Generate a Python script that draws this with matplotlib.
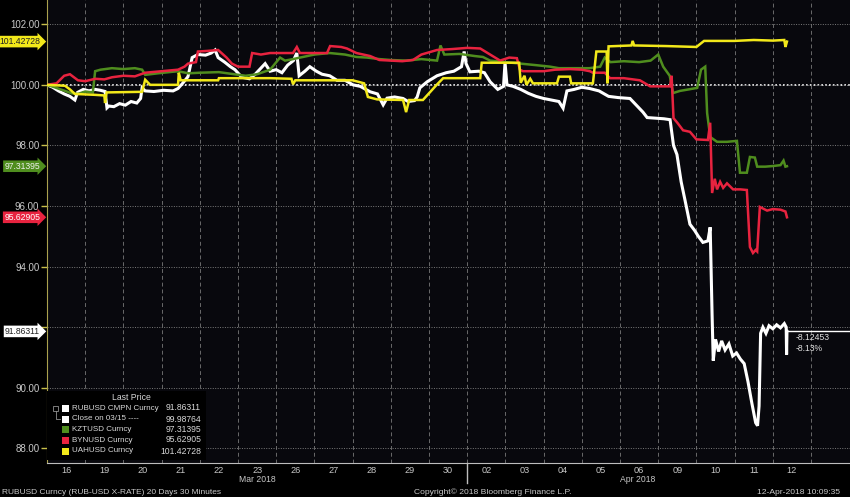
import matplotlib
matplotlib.use('Agg')
import matplotlib.pyplot as plt
from matplotlib import font_manager
from matplotlib.patches import Rectangle
from matplotlib.transforms import blended_transform_factory

plt.rcParams['font.family'] = ['Liberation Sans', 'DejaVu Sans']

# Bloomberg uses a condensed face for labels; take the narrow Liberation cut if present
installed = {f.name for f in font_manager.fontManager.ttflist}
if 'Liberation Sans Narrow' in installed:
    narrow, k = ['Liberation Sans Narrow', 'DejaVu Sans'], 1.2
else:
    narrow, k = ['Liberation Sans', 'DejaVu Sans'], 1.0

# trading days on the x axis (one slot per day)
day_labels = ['16', '19', '20', '21', '22', '23', '26', '27', '28', '29',
              '30', '02', '03', '04', '05', '06', '09', '10', '11', '12']

close_0315 = 99.98764

# RUBUSD (white), time in trading days from 16 Mar
rub_t = [0.00, 0.15, 0.30, 0.45, 0.60, 0.73, 0.80, 0.95, 1.10, 1.26,
         1.40, 1.52, 1.57, 1.62, 1.75, 1.90, 2.05, 2.20, 2.35, 2.45,
         2.49, 2.57, 2.80, 3.05, 3.30, 3.43, 3.55, 3.69, 3.80, 3.95,
         4.15, 4.30, 4.40, 4.48, 4.65, 4.80, 4.92, 5.10, 5.30, 5.45,
         5.60, 5.71, 5.84, 6.00, 6.15, 6.30, 6.45, 6.54, 6.60, 6.75,
         6.88, 7.05, 7.20, 7.40, 7.59, 7.80, 8.01, 8.20, 8.46, 8.65,
         8.80, 8.90, 9.10, 9.32, 9.45, 9.62, 9.69, 9.76, 9.95, 10.21,
         10.45, 10.65, 10.85, 10.92, 10.97, 11.07, 11.30, 11.45, 11.60, 11.80,
         11.95, 11.99, 12.04, 12.20, 12.40, 12.60, 12.80, 13.00, 13.20, 13.40,
         13.51, 13.61, 13.80, 14.00, 14.20, 14.45, 14.70, 14.95, 15.26, 15.45,
         15.60, 15.71, 15.95, 16.15, 16.31, 16.40, 16.49, 16.60, 16.70, 16.83,
         16.95, 17.05, 17.17, 17.30, 17.36, 17.41, 17.44, 17.50, 17.58, 17.66,
         17.75, 17.85, 17.95, 18.05, 18.15, 18.25, 18.35, 18.45, 18.55, 18.60,
         18.64, 18.68, 18.74, 18.82, 18.90, 19.00, 19.10, 19.20, 19.30, 19.35,
         19.36, 19.37]
rub_v = [100.00, 99.92, 99.80, 99.70, 99.62, 99.50, 99.75, 99.85, 99.80, 99.85,
         99.82, 99.78, 99.24, 99.30, 99.28, 99.38, 99.33, 99.45, 99.40, 99.55,
         99.90, 99.80, 99.78, 99.82, 99.80, 99.88, 100.05, 100.27, 100.90, 101.00,
         100.98, 101.05, 101.15, 100.90, 100.75, 100.60, 100.50, 100.25, 100.20, 100.35,
         100.55, 100.70, 100.45, 100.50, 100.40, 100.65, 100.80, 101.05, 100.30, 100.45,
         100.60, 100.45, 100.35, 100.30, 100.15, 100.15, 100.00, 99.95, 99.77, 99.70,
         99.34, 99.56, 99.60, 99.55, 99.45, 99.48, 99.60, 99.90, 100.10, 100.30,
         100.40, 100.45, 100.60, 101.10, 100.70, 100.43, 100.45, 100.40, 100.10, 99.85,
         99.95, 100.73, 100.00, 99.95, 99.85, 99.72, 99.62, 99.55, 99.50, 99.45,
         99.23, 99.80, 99.85, 99.92, 99.88, 99.80, 99.62, 99.58, 99.55, 99.30,
         99.10, 98.92, 98.90, 98.88, 98.85, 98.00, 97.70, 96.80, 96.20, 95.40,
         95.20, 95.00, 94.80, 94.85, 95.30, 92.40, 90.90, 91.60, 91.20, 91.55,
         91.25, 91.45, 91.05, 91.15, 90.95, 90.80, 90.20, 89.50, 88.85, 88.75,
         89.40, 91.80, 92.00, 91.80, 92.05, 91.95, 92.08, 91.98, 92.12, 92.00,
         91.10, 91.86311]

# KZTUSD (green)
kzt_t = [0.00, 0.20, 0.35, 0.47, 0.65, 0.81, 1.00, 1.20, 1.26, 1.40,
         1.70, 2.00, 2.30, 2.49, 2.57, 2.90, 3.20, 3.43, 3.70, 4.00,
         4.50, 4.90, 5.20, 5.50, 5.84, 6.10, 6.23, 6.44, 6.70, 7.00,
         7.40, 7.80, 8.10, 8.38, 8.70, 9.00, 9.40, 9.80, 10.21, 10.30,
         10.40, 10.80, 11.20, 11.41, 11.60, 12.00, 12.40, 12.80, 13.17, 13.40,
         13.80, 14.20, 14.48, 14.60, 14.75, 15.10, 15.50, 15.80, 16.00, 16.13,
         16.30, 16.39, 16.57, 16.80, 17.02, 17.12, 17.23, 17.28, 17.36, 17.54,
         17.80, 18.06, 18.14, 18.32, 18.40, 18.53, 18.59, 18.80, 19.00, 19.20,
         19.28, 19.33, 19.37]
kzt_v = [100.00, 99.92, 99.85, 99.80, 99.72, 99.70, 99.78, 99.75, 100.45, 100.50,
         100.55, 100.52, 100.55, 100.50, 100.33, 100.38, 100.42, 100.45, 100.38, 100.40,
         100.42, 100.35, 100.30, 100.35, 100.50, 100.90, 100.80, 100.85, 100.92, 101.00,
         101.05, 101.00, 100.92, 100.90, 100.85, 100.82, 100.80, 100.85, 100.80, 101.30,
         101.00, 101.02, 100.95, 100.92, 100.80, 100.75, 100.70, 100.65, 100.60, 100.55,
         100.55, 100.55, 100.60, 100.90, 100.75, 100.78, 100.75, 100.80, 101.00, 100.60,
         100.30, 99.73, 99.80, 99.85, 99.90, 100.50, 100.60, 99.07, 98.28, 98.12,
         98.12, 98.15, 97.10, 97.10, 97.62, 97.60, 97.30, 97.30, 97.32, 97.35,
         97.50, 97.30, 97.31395]

# BYNUSD (red)
byn_t = [0.00, 0.25, 0.45, 0.60, 0.81, 1.00, 1.26, 1.50, 1.70, 2.00,
         2.30, 2.57, 3.00, 3.43, 3.60, 3.69, 3.90, 3.95, 4.20, 4.48,
         4.70, 4.84, 5.00, 5.30, 5.37, 5.60, 5.84, 6.20, 6.44, 6.54,
         6.62, 7.00, 7.33, 7.41, 7.70, 7.85, 8.10, 8.46, 8.70, 9.00,
         9.30, 9.58, 9.80, 10.21, 10.60, 11.00, 11.34, 11.60, 11.86, 12.10,
         12.30, 12.38, 12.46, 13.00, 13.30, 13.69, 14.00, 14.21, 14.29, 14.60,
         14.74, 15.10, 15.52, 15.79, 16.10, 16.31, 16.35, 16.40, 16.50, 16.65,
         16.83, 17.00, 17.30, 17.36, 17.41, 17.48, 17.54, 17.62, 17.70, 17.80,
         17.96, 18.15, 18.32, 18.40, 18.48, 18.55, 18.59, 18.66, 18.85, 19.00,
         19.20, 19.33, 19.37]
byn_v = [100.00, 100.05, 100.30, 100.35, 100.15, 100.12, 100.20, 100.18, 100.25, 100.30,
         100.28, 100.40, 100.45, 100.50, 100.60, 100.70, 100.75, 101.10, 101.12, 101.15,
         100.90, 100.70, 100.60, 100.60, 101.05, 101.00, 101.05, 101.05, 101.05, 101.25,
         101.05, 101.05, 101.05, 101.28, 101.25, 101.20, 101.05, 100.95, 100.82, 100.80,
         100.78, 100.82, 101.00, 101.15, 101.18, 101.22, 101.20, 101.00, 100.80, 100.90,
         100.88, 100.50, 100.45, 100.45, 100.50, 100.52, 100.50, 100.45, 100.40, 100.40,
         100.22, 100.22, 100.15, 99.95, 99.95, 99.95, 100.30, 98.90, 98.75, 98.50,
         98.45, 98.20, 98.18, 98.75, 96.43, 96.90, 96.55, 96.80, 96.60, 96.75,
         96.55, 96.55, 96.53, 94.65, 94.45, 94.55, 94.50, 95.97, 95.85, 95.90,
         95.88, 95.82, 95.62905]

# UAHUSD (yellow)
uah_t = [0.00, 0.47, 0.60, 0.73, 1.26, 1.50, 1.52, 1.56, 2.49, 2.57,
         2.70, 3.43, 3.45, 3.50, 4.48, 4.50, 5.84, 6.40, 6.44, 6.50,
         8.00, 8.30, 8.40, 8.64, 9.32, 9.40, 9.48, 9.84, 10.20, 10.37,
         11.34, 11.38, 12.36, 12.40, 12.50, 12.55, 12.65, 12.72, 13.35, 13.40,
         13.69, 13.72, 14.29, 14.38, 14.65, 14.67, 14.70, 15.30, 15.33, 15.37,
         16.20, 17.00, 17.20, 18.00, 18.50, 19.00, 19.30, 19.33, 19.37]
uah_v = [100.00, 99.97, 99.85, 99.70, 99.67, 99.65, 99.40, 99.75, 99.77, 100.17,
         100.00, 100.00, 100.40, 100.15, 100.15, 100.22, 100.22, 100.20, 100.02, 100.15,
         100.15, 100.05, 99.60, 99.52, 99.50, 99.10, 99.50, 99.50, 100.00, 100.22,
         100.22, 100.73, 100.73, 100.07, 100.30, 100.00, 100.20, 100.05, 100.05, 100.27,
         100.27, 100.05, 100.05, 101.10, 101.10, 100.05, 101.27, 101.30, 101.45, 101.30,
         101.28, 101.25, 101.45, 101.45, 101.48, 101.46, 101.48, 101.25, 101.42728]

series = [
    ('RUBUSD CMPN Curncy', rub_t, rub_v, '#ffffff', '#222222', 2.2, 2),
    ('KZTUSD Curncy', kzt_t, kzt_v, '#4f8d1e', '#f0f0f0', 1.8, 3),
    ('BYNUSD Curncy', byn_t, byn_v, '#e8233f', '#ffffff', 1.8, 4),
    ('UAHUSD Curncy', uah_t, uah_v, '#f2e81a', '#222222', 1.8, 5),
]

fig = plt.figure(figsize=(8.5, 4.97), dpi=100, facecolor='black')
ax = fig.add_axes([47 / 850, 34 / 497, 803 / 850, 463 / 497])
ax.set_facecolor('#08080d')
ax.set_xlim(0, 21.02)
ax.set_ylim(87.52, 102.8)

# grid: day boundaries dashed, price levels dotted
ax.set_xticks(range(1, 21))
ax.set_xticks([i + 0.5 for i in range(len(day_labels))], minor=True)
ax.set_xticklabels(day_labels, minor=True)
ax.tick_params(axis='x', which='both', length=0, colors='#c8c8c8', labelsize=6.6, pad=2)
ax.tick_params(axis='x', which='major', labelbottom=False)
ax.grid(axis='x', which='major', color='#6a6a6a', linestyle=(0, (4, 3)), linewidth=0.7)

yt = list(range(88, 103, 2))
ax.set_yticks(yt)
# the 92.00 label sits under the RUB price tag
ax.set_yticklabels(['' if v == 92 else f'{v:.2f}' for v in yt])
ax.tick_params(axis='y', length=4, width=1, color='#c8c04a', labelcolor='#c8c8c8',
               labelsize=7, pad=1.5)
ax.grid(axis='y', color='#7a7a7a', linestyle=(0, (1, 1.5)), linewidth=0.7)

for s in ['top', 'right']:
    ax.spines[s].set_visible(False)
ax.spines['left'].set_color('#aaa24e')
ax.spines['bottom'].set_color('#bdbdbd')

ax.axhline(close_0315, color='white', linestyle=(0, (1, 1.3)), linewidth=1.2, zorder=1.5)

for name, t, v, c, tc, lw, z in series:
    ax.plot(t, v, color=c, linewidth=lw, zorder=z, solid_joinstyle='miter')

# value tags on the left axis
trans_y = blended_transform_factory(ax.transAxes, ax.transData)
for name, t, v, c, tc, lw, z in series:
    ax.annotate(f'{v[-1]:.5f}', xy=(0, v[-1]), xycoords=trans_y, xytext=(-5, 0),
                textcoords='offset points', ha='right', va='center', fontsize=6.2 * k,
                family=narrow, color=tc, annotation_clip=False, zorder=10,
                bbox=dict(boxstyle='rarrow,pad=0.15', fc=c, ec='none'))

# last price line and change vs close on 03/15
chg = rub_v[-1] - close_0315
pct = chg / close_0315 * 100
ax.hlines(rub_v[-1], rub_t[-1], 21.02, color='white', linewidth=1, zorder=6)
ax.annotate(f'{chg:.5f}', xy=(rub_t[-1], rub_v[-1]), xytext=(6, -1.5),
            textcoords='offset points', ha='left', va='top', fontsize=6.2 * k,
            family=narrow, color='#e0e0e0')
ax.annotate(f'{pct:.2f}%', xy=(rub_t[-1], rub_v[-1]), xytext=(6, -8.8),
            textcoords='offset points', ha='left', va='top', fontsize=6.2 * k,
            family=narrow, color='#e0e0e0')

# month separator below the axis
trans_x = blended_transform_factory(ax.transData, ax.transAxes)
ax.plot([11, 11], [0, -20 / 463], transform=trans_x, clip_on=False, color='#bdbdbd', lw=1)
fig.text(257 / 850, 1 - 480 / 497, 'Mar 2018', ha='center', va='center',
         fontsize=6.2 * k, family=narrow, color='#c8c8c8')
fig.text(638 / 850, 1 - 480 / 497, 'Apr 2018', ha='center', va='center',
         fontsize=6.2 * k, family=narrow, color='#c8c8c8')


# legend box, positioned in pixels of the plot area
def ax_x(px):
    return (px - 47) / 803


def ax_y(py):
    return (463 - py) / 463


ax.add_patch(Rectangle((0, ax_y(460)), ax_x(206), ax_y(391) - ax_y(460),
                       transform=ax.transAxes, fc='black', ec='none', zorder=7))
ax.text(ax_x(131), ax_y(397), 'Last Price', transform=ax.transAxes, ha='center',
        va='center', fontsize=6.2 * k, family=narrow, color='#d8d8d8', zorder=8)
leg_rows = [
    ('RUBUSD CMPN Curncy', rub_v[-1], '#ffffff'),
    ('Close on 03/15 ----', close_0315, '#ffffff'),
    ('KZTUSD Curncy', kzt_v[-1], '#4f8d1e'),
    ('BYNUSD Curncy', byn_v[-1], '#e8233f'),
    ('UAHUSD Curncy', uah_v[-1], '#f2e81a'),
]
row_y = [408, 419, 429.5, 440, 451]
for (lab, val, c), py in zip(leg_rows, row_y):
    ax.add_patch(Rectangle((ax_x(62), ax_y(py + 3.5)), 7 / 803, 7 / 463,
                           transform=ax.transAxes, fc=c, ec='none', zorder=8))
    ax.text(ax_x(72), ax_y(py), lab, transform=ax.transAxes, ha='left', va='center',
            fontsize=5.75 * k, family=narrow, color='#d8d8d8', zorder=8)
    ax.text(ax_x(201), ax_y(py), f'{val:.5f}', transform=ax.transAxes, ha='right',
            va='center', fontsize=6.2 * k, family=narrow, color='#d8d8d8', zorder=8)
# small bracket linking the first two rows
ax.add_patch(Rectangle((ax_x(53), ax_y(411)), 5 / 803, 5 / 463, transform=ax.transAxes,
                       fc='none', ec='#909090', lw=0.6, zorder=8))
ax.plot([ax_x(55.5), ax_x(55.5), ax_x(60)], [ax_y(411), ax_y(419), ax_y(419)],
        transform=ax.transAxes, color='#909090', lw=0.6, zorder=8)

# footer
fig.text(2 / 850, 1 - 492 / 497, 'RUBUSD Curncy (RUB-USD X-RATE) 20 Days 30 Minutes',
         ha='left', va='center', fontsize=6.0 * k, family=narrow, color='#c8c8c8')
fig.text(493 / 850, 1 - 492 / 497, 'Copyright\u00a9 2018 Bloomberg Finance L.P.',
         ha='center', va='center', fontsize=6.1 * k, family=narrow, color='#c8c8c8')
fig.text(840 / 850, 1 - 492 / 497, '12-Apr-2018 10:09:35',
         ha='right', va='center', fontsize=6.1 * k, family=narrow, color='#c8c8c8')

fig.savefig('out.png', dpi=100, facecolor=fig.get_facecolor())
